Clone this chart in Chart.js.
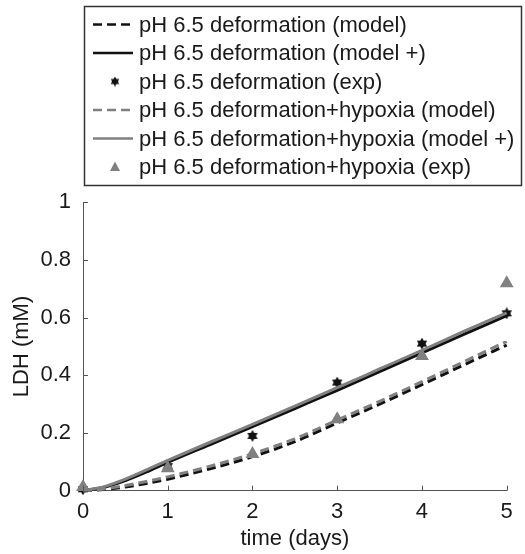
<!DOCTYPE html>
<html>
<head>
<meta charset="utf-8">
<script src="https://cdn.jsdelivr.net/npm/chart.js@4.4.1/dist/chart.umd.min.js"></script>
<style>
  html, body { margin: 0; padding: 0; background: #fff; }
  #wrap { position: relative; width: 525px; height: 554px; }
</style>
</head>
<body>
<div id="wrap"><canvas id="ldhChart"></canvas></div>
<script>
// model curves, sampled on days
const days = [0, 0.25, 0.5, 0.75, 1, 1.5, 2, 2.5, 3, 3.5, 4, 4.5, 5];
const defModel     = [0, 0.004, 0.013, 0.025, 0.040, 0.076, 0.118, 0.170, 0.235, 0.300, 0.368, 0.437, 0.505];
const defModelPlus = [0, 0.012, 0.035, 0.065, 0.098, 0.160, 0.222, 0.285, 0.348, 0.413, 0.478, 0.543, 0.607];
const hypModel     = [0, 0.006, 0.018, 0.032, 0.048, 0.085, 0.128, 0.180, 0.245, 0.310, 0.378, 0.448, 0.518];
const hypModelPlus = [0, 0.014, 0.040, 0.072, 0.105, 0.168, 0.230, 0.293, 0.357, 0.422, 0.487, 0.553, 0.617];

// experimental points
const expDays = [0, 1, 2, 3, 4, 5];
const defExp  = [0.005, 0.085, 0.190, 0.375, 0.510, 0.615];
const hypExp  = [0.013, 0.078, 0.127, 0.248, 0.467, 0.719];

const xTicks = [0, 1, 2, 3, 4, 5];
const yTicks = [0, 0.2, 0.4, 0.6, 0.8, 1];

const seriesLabels = [
    'pH 6.5 deformation (model)',
    'pH 6.5 deformation (model +)',
    'pH 6.5 deformation (exp)',
    'pH 6.5 deformation+hypoxia (model)',
    'pH 6.5 deformation+hypoxia (model +)',
    'pH 6.5 deformation+hypoxia (exp)'
];

const BLACK = '#111111';
const GREY = '#808080';
const TEXT = '#1a1a1a';
const AXIS = '#555555';
const FONT = "'Liberation Sans', Arial, Helvetica, sans-serif";

const toXY = (xs, ys) => xs.map((x, i) => ({ x: x, y: ys[i] }));

// filled hexagram marker (matlab 'h')
function hexagram(size, color) {
    const c = document.createElement('canvas');
    c.width = size;
    c.height = size;
    const g = c.getContext('2d');
    const r = size / 2;
    g.fillStyle = color;
    [-Math.PI / 2, Math.PI / 2].forEach(start => {
        g.beginPath();
        for (let k = 0; k < 3; k++) {
            const a = start + k * 2 * Math.PI / 3;
            const px = r + Math.cos(a) * r;
            const py = r + Math.sin(a) * r;
            if (k === 0) g.moveTo(px, py); else g.lineTo(px, py);
        }
        g.closePath();
        g.fill();
    });
    return c;
}

const starBig = hexagram(12, BLACK);
const starSmall = hexagram(10, BLACK);

// inward ticks like matlab
const innerTicks = {
    id: 'innerTicks',
    afterDraw(chart) {
        const { ctx, chartArea, scales } = chart;
        ctx.save();
        ctx.strokeStyle = AXIS;
        ctx.lineWidth = 1;
        ctx.beginPath();
        yTicks.forEach(v => {
            const py = Math.round(scales.y.getPixelForValue(v)) + 0.5;
            ctx.moveTo(chartArea.left, py);
            ctx.lineTo(chartArea.left + 5, py);
        });
        xTicks.forEach(v => {
            const px = Math.round(scales.x.getPixelForValue(v)) + 0.5;
            ctx.moveTo(px, chartArea.bottom);
            ctx.lineTo(px, chartArea.bottom - 5);
        });
        ctx.stroke();
        ctx.restore();
    }
};

// boxed legend in the top area
const boxLegend = {
    id: 'boxLegend',
    afterDraw(chart) {
        const ctx = chart.ctx;
        const box = { left: 84.5, top: 6.5, right: 521.5, bottom: 185.5 };
        ctx.save();
        ctx.strokeStyle = '#333';
        ctx.lineWidth = 1.5;
        ctx.strokeRect(box.left, box.top, box.right - box.left, box.bottom - box.top);

        ctx.font = '22px ' + FONT;
        ctx.textBaseline = 'middle';
        ctx.fillStyle = TEXT;
        chart.data.datasets.forEach((ds, i) => {
            const y = 24.5 + i * 28.5;
            if (ds.showLine) {
                ctx.save();
                ctx.strokeStyle = ds.borderColor;
                ctx.lineWidth = 2.5;
                ctx.setLineDash(ds.borderDash || []);
                ctx.beginPath();
                ctx.moveTo(93, y);
                ctx.lineTo(133, y);
                ctx.stroke();
                ctx.restore();
            } else if (ds.pointStyle === 'triangle') {
                ctx.save();
                ctx.fillStyle = ds.backgroundColor;
                ctx.beginPath();
                ctx.moveTo(115, y - 5.5);
                ctx.lineTo(120, y + 4);
                ctx.lineTo(110, y + 4);
                ctx.closePath();
                ctx.fill();
                ctx.restore();
            } else {
                ctx.drawImage(starSmall, 115 - 5, y - 5);
            }
            ctx.fillText(ds.label, 139, y + 1);
        });
        ctx.restore();
    }
};

const tickText = (value) => String(Math.round(value * 10) / 10);

const ctx = document.getElementById('ldhChart');

new Chart(ctx, {
    type: 'scatter',
    data: {
        datasets: [{
            label: seriesLabels[0],
            data: toXY(days, defModel),
            showLine: true,
            borderColor: BLACK,
            borderWidth: 3,
            borderDash: [9, 5],
            pointRadius: 0,
            cubicInterpolationMode: 'monotone',
            order: 6
        }, {
            label: seriesLabels[1],
            data: toXY(days, defModelPlus),
            showLine: true,
            borderColor: BLACK,
            borderWidth: 3,
            pointRadius: 0,
            cubicInterpolationMode: 'monotone',
            order: 5
        }, {
            label: seriesLabels[2],
            data: toXY(expDays, defExp),
            showLine: false,
            pointStyle: starBig,
            pointRadius: 6,
            backgroundColor: BLACK,
            borderColor: BLACK,
            order: 4
        }, {
            label: seriesLabels[3],
            data: toXY(days, hypModel),
            showLine: true,
            borderColor: GREY,
            borderWidth: 3,
            borderDash: [9, 5],
            pointRadius: 0,
            cubicInterpolationMode: 'monotone',
            order: 3
        }, {
            label: seriesLabels[4],
            data: toXY(days, hypModelPlus),
            showLine: true,
            borderColor: GREY,
            borderWidth: 3,
            pointRadius: 0,
            cubicInterpolationMode: 'monotone',
            order: 2
        }, {
            label: seriesLabels[5],
            data: toXY(expDays, hypExp),
            showLine: false,
            pointStyle: 'triangle',
            pointRadius: 8,
            backgroundColor: GREY,
            borderColor: GREY,
            borderWidth: 0,
            order: 1
        }]
    },
    options: {
        responsive: true,
        maintainAspectRatio: false,
        animation: false,
        clip: false,
        layout: {
            padding: { top: 202.3, right: 18.3, bottom: 0, left: 0 }
        },
        plugins: {
            legend: { display: false },
            tooltip: { enabled: false }
        },
        scales: {
            x: {
                type: 'linear',
                min: 0,
                max: 5,
                afterFit: (scale) => { scale.height = 63.3; },
                afterBuildTicks: (scale) => { scale.ticks = xTicks.map(v => ({ value: v })); },
                grid: { display: false, drawTicks: false },
                border: { display: true, color: AXIS, width: 1 },
                ticks: {
                    color: TEXT,
                    padding: 8,
                    maxRotation: 0,
                    font: { family: FONT, size: 22 },
                    callback: tickText
                },
                title: {
                    display: true,
                    text: 'time (days)',
                    color: TEXT,
                    font: { family: FONT, size: 22 },
                    padding: { top: 0, bottom: 2 }
                }
            },
            y: {
                type: 'linear',
                min: 0,
                max: 1,
                afterFit: (scale) => { scale.width = 83; },
                afterBuildTicks: (scale) => { scale.ticks = yTicks.map(v => ({ value: v })); },
                grid: { display: false, drawTicks: false },
                border: { display: true, color: AXIS, width: 1 },
                ticks: {
                    color: TEXT,
                    padding: 12,
                    font: { family: FONT, size: 22 },
                    callback: tickText
                },
                title: {
                    display: true,
                    text: 'LDH (mM)',
                    color: TEXT,
                    font: { family: FONT, size: 22 },
                    padding: { top: 9, bottom: 0 }
                }
            }
        }
    },
    plugins: [innerTicks, boxLegend]
});
</script>
</body>
</html>
